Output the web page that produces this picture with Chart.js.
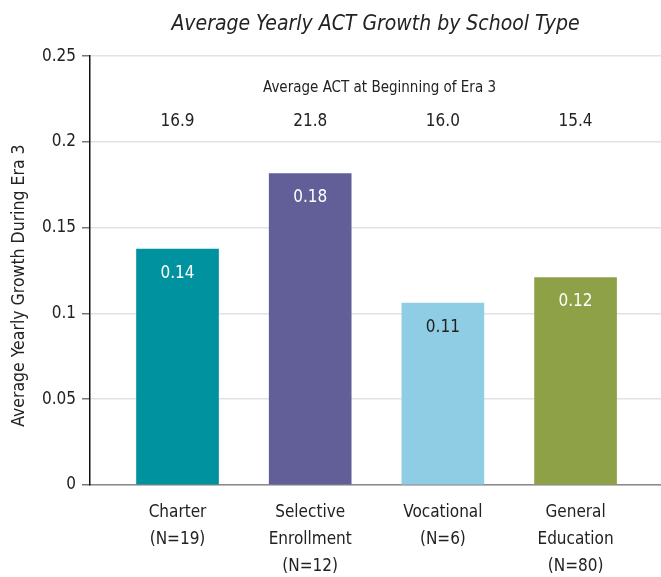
<!DOCTYPE html>
<html><head><meta charset="utf-8">
<script src="https://cdn.jsdelivr.net/npm/chart.js@4/dist/chart.umd.min.js"></script>
<style>html,body{margin:0;padding:0;background:#fff}#wrap{width:661px;height:577px}</style>
</head><body><div id="wrap"><canvas id="c" width="661" height="577"></canvas></div>
<script>
const categories = [["Charter","(N=19)"],["Selective","Enrollment","(N=12)"],["Vocational","(N=6)"],["General","Education","(N=80)"]];
const growth = [0.1375, 0.1815, 0.106, 0.121];
const growthLabels = ["0.14","0.18","0.11","0.12"];
const startACT = ["16.9","21.8","16.0","15.4"];
const yTicks = [0, 0.05, 0.1, 0.15, 0.2, 0.25];
const barColors = ["#00929E","#615E98","#8ECDE3","#8FA146"];
const labelColors = ["#ffffff","#ffffff","#222222","#ffffff"];
const yTitle = "Average Yearly Growth During Era 3";
const headerTitle = "Average ACT at Beginning of Era 3";

const FONT = "'Liberation Sans Narrow','DejaVu Sans Condensed','Roboto',sans-serif";

const extraText = {
  id: 'extraText',
  afterDatasetsDraw(chart){
    const ctx = chart.ctx;
    const meta = chart.getDatasetMeta(0);
    const xs = chart.scales.x, ys = chart.scales.y;
    ctx.save();
    ctx.textAlign = 'center';
    ctx.textBaseline = 'middle';
    meta.data.forEach((bar, i) => {
      ctx.fillStyle = labelColors[i];
      ctx.font = "17px " + FONT;
      ctx.fillText(growthLabels[i], bar.x, bar.y + 24);
      ctx.fillStyle = '#222';
      ctx.fillText(startACT[i], bar.x, ys.getPixelForValue(0.2121));
    });
    ctx.font = "15px " + FONT;
    ctx.fillStyle = '#222';
    ctx.fillText(headerTitle, (xs.getPixelForValue(0)+xs.getPixelForValue(3))/2 + 3, ys.getPixelForValue(0.2313));
    ctx.translate(19, (ys.top + ys.bottom)/2 + 15);
    ctx.rotate(-Math.PI/2);
    ctx.font = "17.5px " + FONT;
    ctx.fillText(yTitle, 0, 0);
    ctx.restore();
  }
};

new Chart(document.getElementById('c'), {
  type: 'bar',
  data: {
    datasets: [{
      data: growth.map((v,i)=>({x:i, y:v})),
      backgroundColor: barColors,
      barThickness: 82
    }]
  },
  options: {
    responsive: false,
    animation: false,
    layout: { padding: { left: 0, right: 0, top: 0, bottom: 0 } },
    plugins: {
      legend: { display: false },
      tooltip: { enabled: false },
      title: {
        display: true,
        fullSize: false,
        text: "Average Yearly ACT Growth by School Type",
        font: { family: FONT, size: 21, style: 'italic', weight: 'normal' },
        color: '#222',
        padding: { top: 12, bottom: 19 }
      }
    },
    scales: {
      x: {
        type: 'linear',
        offset: false,
        min: -0.6596,
        max: 3.644,
        afterBuildTicks: s => { s.ticks = [0,1,2,3].map(v => ({value: v})); },
        afterFit: s => { s.height = 92; },
        ticks: {
          autoSkip: false,
          maxRotation: 0,
          padding: 14,
          color: '#222',
          font: { family: FONT, size: 17, lineHeight: 1.6 },
          callback: v => categories[v]
        },
        grid: { display: false, drawTicks: false },
        border: { display: true, color: '#8a8a8a', width: 1.5 }
      },
      y: {
        min: 0,
        max: 0.25,
        afterFit: s => { s.width = 90; },
        afterBuildTicks: s => { s.ticks = yTicks.map(v => ({value: v})); },
        ticks: {
          padding: 6,
          color: '#222',
          font: { family: FONT, size: 17 },
          callback: v => String(+Number(v).toFixed(2))
        },
        grid: { color: '#e2e2e2', lineWidth: 1.5, tickColor: '#777', tickLength: 8 },
        border: { display: true, color: '#111', width: 1.5 },
        title: { display: false }
      }
    }
  },
  plugins: [extraText]
});
</script></body></html>
